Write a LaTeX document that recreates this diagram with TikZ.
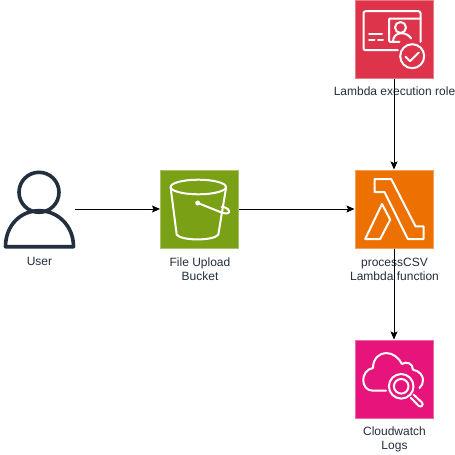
\documentclass[tikz,border=0pt]{standalone}
\usepackage{fontspec}
\setmainfont{Liberation Sans}
\usetikzlibrary{arrows.meta}
\definecolor{inkdark}{HTML}{232F3E}
\definecolor{rolered}{HTML}{DD344C}
\definecolor{lambdaorange}{HTML}{ED7100}
\definecolor{logspink}{HTML}{E7157B}
\definecolor{bucketgreen}{HTML}{7AA116}
\tikzset{
  iconbox/.style={minimum size=78pt, inner sep=0pt, line width=1pt},
  caption/.style={align=center, text=inkdark, font=\fontsize{12}{14}\selectfont, inner sep=0pt},
  glyph/.style={draw=white, line width=2pt, line join=round, line cap=round},
  flow/.style={-{Stealth[length=8pt,width=7pt,inset=1.5pt]}, line width=1pt}
}
\begin{document}
\begin{tikzpicture}[x=1pt,y=-1pt]
  \useasboundingbox (0,0) rectangle (455,455);
  \fill[white] (0,0) rectangle (455,455);
  % icon boxes
  \node[iconbox, fill=rolered, draw=rolered!65!white] (role) at (394,39.5) {};
  \node[iconbox, fill=lambdaorange, draw=lambdaorange!65!white] (lambda) at (394,209) {};
  \node[iconbox, fill=logspink, draw=logspink!65!white] (logs) at (394,379) {};
  \node[iconbox, fill=bucketgreen, draw=bucketgreen!65!white] (bucket) at (199.5,209) {};
  \node[iconbox, minimum width=71pt] (user) at (39,209) {};
  % person
  \begin{scope}[shift={(user.center)}]
    \draw[inkdark, line width=3.6pt] (0,-16.7) circle (20);
    \draw[inkdark, line width=3.6pt, line join=round] (-33.5,37.7)
      .. controls (-33.5,16) and (-18,1.7) .. (0,1.7)
      .. controls (18,1.7) and (34.5,16) .. (34.5,37.7) -- cycle;
  \end{scope}
  % bucket
  \begin{scope}[shift={(bucket.center)}]
    \draw[glyph] (-1.2,-22) ellipse (27.7 and 7.3);
    \draw[glyph] (-28.8,-21) -- (-22.8,25.7)
      .. controls (-18,32) and (14,32) .. (18.8,25.7) -- (26.5,-21);
    \fill[white] (-1.8,-6) circle (2.5);
    \draw[glyph] (-1.8,-6) -- (22,3.5) .. controls (27,5.5) and (31,4) .. (29.5,1.5)
      .. controls (28,-1) and (24,-2.5) .. (22,-2);
  \end{scope}
  % lambda
  \begin{scope}[shift={(lambda.center)}]
    \draw[glyph] (-19.5,-30) -- (-2.8,-30) -- (21.5,17.3) -- (29.5,17.3) -- (29.5,30)
      -- (13.8,30) -- (-9.5,-17) -- (-19.5,-17) -- cycle;
    \draw[glyph] (-12,-5) -- (-3.8,10.7) -- (-13.8,30) -- (-28.8,30) -- cycle;
  \end{scope}
  % role card
  \begin{scope}[shift={(role.center)}]
    \draw[glyph, rounded corners=2pt] (3.8,10.7) -- (-30.5,10.7) -- (-30.5,-28.3)
      -- (26.5,-28.3) -- (26.5,2.3);
    \draw[glyph, rounded corners=1pt] (5.5,2.3) -- (-5,2.3) -- (-5,-21) -- (26.5,-21);
    \draw[glyph] (6.5,-12) circle (5.5);
    \draw[glyph] (-1,2.3) .. controls (-1,-8) and (12,-9) .. (17.2,-1);
    \draw[glyph] (-25,-6) -- (-12,-6);
    \draw[glyph] (-25,.7) -- (-19.5,.7);
    \draw[glyph] (-16,.7) -- (-11,.7);
    \draw[glyph] (18.2,16.7) circle (12);
    \draw[glyph] (11.5,17.3) -- (16,21.7) -- (24.8,13);
  \end{scope}
  % cloud and magnifier
  \begin{scope}[shift={(logs.center)}]
    \draw[glyph] (-7.8,11.7) -- (-21,11.7)
      .. controls (-34,11.7) and (-34,-9) .. (-21,-11)
      .. controls (-21,-21) and (-14,-26) .. (-7.8,-26)
      .. controls (-1,-26) and (5,-21) .. (8,-15)
      .. controls (12,-18) and (19,-16) .. (19,-9.3)
      .. controls (26,-8) and (29,-3) .. (29,.7)
      .. controls (29,4) and (28,7) .. (25.5,9);
    \draw[glyph] (7.2,7.3) circle (12.3);
    \draw[glyph] (7.2,7.3) circle (7.3);
    \draw[glyph] (16.5,18.5) -- (24.5,26.7) .. controls (27,29) and (30,26) .. (28,23.5)
      -- (19.5,15.5);
  \end{scope}
  % captions
  \node[caption] (rolelabel) at (394.5,91.5) {Lambda execution role};
  \node[caption] (lambdalabel) at (394.5,269.5) {processCSV\\Lambda function};
  \node[caption] (logslabel) at (394.5,439.5) {Cloudwatch\\Logs};
  \node[caption] (bucketlabel) at (200,269.5) {File Upload\\Bucket};
  \node[caption] (userlabel) at (39.5,261.5) {User};
  % flows
  \draw[flow] (user) -- (bucket);
  \draw[flow] (bucket) -- (lambda);
  \draw[flow] (role) -- (lambda);
  \draw[flow] (lambda) -- (logs);
\end{tikzpicture}
\end{document}
